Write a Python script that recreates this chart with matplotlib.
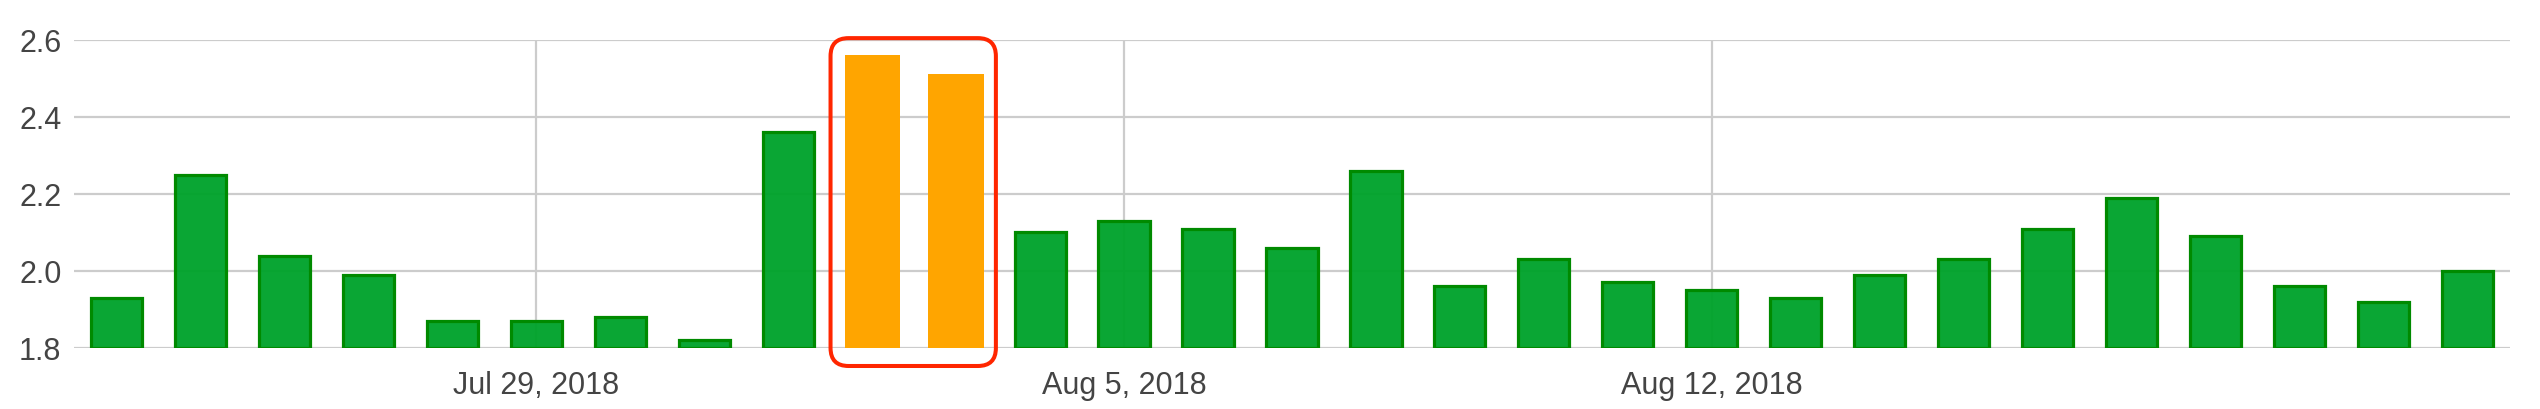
import numpy as np
import pandas as pd
import matplotlib
matplotlib.use("Agg")
import matplotlib.pyplot as plt
import matplotlib.dates as mdates
from matplotlib.patches import FancyBboxPatch
from matplotlib.transforms import IdentityTransform

# daily values, Jul 24 - Aug 21, 2018
start_date = "2018-07-24"
values = [1.93, 2.25, 2.04, 1.99, 1.87, 1.87, 1.88, 1.82, 2.36, 2.56,
          2.51, 2.10, 2.13, 2.11, 2.06, 2.26, 1.96, 2.03, 1.97, 1.95,
          1.93, 1.99, 2.03, 2.11, 2.19, 2.09, 1.96, 1.92, 2.00]
highlight = [9, 10]   # the two orange days
tick_dates = ["2018-07-29", "2018-08-05", "2018-08-12"]
y_ticks = [1.8, 2.0, 2.2, 2.4, 2.6]

dates = pd.date_range(start_date, periods=len(values), freq="D")
x = mdates.date2num(dates.to_pydatetime())

plt.rcParams["font.family"] = ["Liberation Sans", "DejaVu Sans"]

fig = plt.figure(figsize=(25.4, 4.1), dpi=100)
ax = fig.add_axes([0.0291, 0.1488, 0.9591, 0.7519])

green_fill = (0.0, 0.64, 0.17, 0.96)
green_edge = "#008a00"
orange = "#ffa500"

for i, (xi, v) in enumerate(zip(x, values)):
    if i in highlight:
        ax.bar(xi, v - 1.8, bottom=1.8, width=0.66, color=orange,
               linewidth=0, zorder=3)
    else:
        ax.bar(xi, v - 1.8, bottom=1.8, width=0.61, facecolor=green_fill,
               edgecolor=green_edge, linewidth=2.3, zorder=3)

ax.set_xlim(x[0] - 0.51, x[-1] + 0.51)
ax.set_ylim(1.8, 2.6)

tick_x = mdates.date2num(pd.to_datetime(tick_dates).to_pydatetime())
ax.set_xticks(tick_x)
ax.set_xticklabels([pd.Timestamp(d).strftime("%b %-d, %Y") for d in tick_dates])
ax.set_yticks(y_ticks)
ax.set_yticklabels([f"{t:.1f}" for t in y_ticks])

ax.grid(True, color="#cccccc", linewidth=1.6, zorder=0)
ax.set_axisbelow(True)
for s in ax.spines.values():
    s.set_visible(False)
ax.tick_params(axis="both", length=0, labelsize=22, colors="#444444")
ax.tick_params(axis="x", pad=16)
ax.tick_params(axis="y", pad=9)

# red rounded box around the highlighted bars (drawn in pixels)
hx = [x[i] for i in highlight]
hv = [values[i] for i in highlight]
(px0, py0) = ax.transData.transform((min(hx) - 0.33, 1.8))
(px1, py1) = ax.transData.transform((max(hx) + 0.33, max(hv)))
px0 -= 14
px1 += 12
py0 -= 18
py1 += 17
box = FancyBboxPatch((px0, py0), px1 - px0, py1 - py0,
                     boxstyle="round,pad=0,rounding_size=18",
                     fill=False, edgecolor="#ff2600", linewidth=2.9,
                     transform=IdentityTransform(), clip_on=False, zorder=5)
fig.patches.append(box)

fig.savefig("out.png", dpi=100, facecolor="white")
